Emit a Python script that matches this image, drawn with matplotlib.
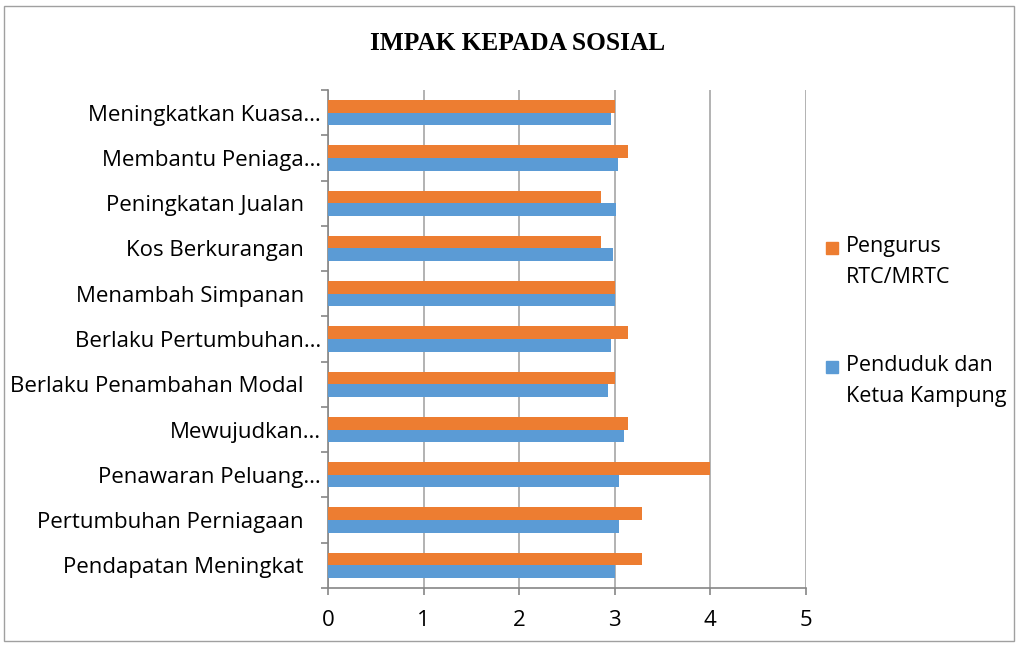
import numpy as np
import matplotlib.pyplot as plt
from matplotlib.patches import Rectangle

# Data (bottom to top, as drawn)
categories = [
    "Pendapatan Meningkat",
    "Pertumbuhan Perniagaan",
    "Penawaran Peluang…",
    "Mewujudkan…",
    "Berlaku Penambahan Modal",
    "Berlaku Pertumbuhan…",
    "Menambah Simpanan",
    "Kos Berkurangan",
    "Peningkatan Jualan",
    "Membantu Peniaga…",
    "Meningkatkan Kuasa…",
]
pengurus = [3.29, 3.29, 4.0, 3.14, 3.0, 3.14, 3.0, 2.86, 2.86, 3.14, 3.0]
penduduk = [3.0, 3.05, 3.05, 3.10, 2.93, 2.96, 3.01, 2.98, 3.02, 3.04, 2.96]
series_names = ["Pengurus\nRTC/MRTC", "Penduduk dan\nKetua Kampung"]
x_ticks = [0, 1, 2, 3, 4, 5]

orange = "#ed7d31"
blue = "#5b9bd5"
label_font = "Open Sans"
fs = 16

fig = plt.figure(figsize=(10.16, 6.45), dpi=100)
W, H = 1016, 645
ax = fig.add_axes([328 / W, 1 - 588 / H, (805.5 - 328) / W, (588 - 90) / H])

y = np.arange(len(categories))
h = 0.28
ax.barh(y - h / 2, penduduk, height=h, color=blue, zorder=3)
ax.barh(y + h / 2, pengurus, height=h, color=orange, zorder=3)

ax.set_xlim(0, 5)
ax.set_ylim(-0.5, len(categories) - 0.5)
ax.set_xticks(x_ticks)
ax.set_xticklabels([str(t) for t in x_ticks], fontsize=fs, family=label_font)
ax.set_yticks(y)
# full (untruncated) labels sit a little further from the axis than the cut ones
ax.set_yticklabels([c if c.endswith("…") else c + "   " for c in categories],
                   fontsize=fs, family=label_font)
ax.set_yticks(np.arange(len(categories) + 1) - 0.5, minor=True)
ax.tick_params(axis="y", which="major", length=0, pad=5)
ax.tick_params(axis="y", which="minor", length=5, color="#868686", width=1.2)
ax.tick_params(axis="x", length=5, color="#868686", width=1.2, pad=11)

ax.grid(axis="x", color="#a6a6a6", linewidth=1.2, zorder=0)
for s in ["top", "right"]:
    ax.spines[s].set_visible(False)
for s in ["left", "bottom"]:
    ax.spines[s].set_color("#868686")
    ax.spines[s].set_linewidth(1.2)

fig.text(518 / W, 1 - 43 / H, "IMPAK KEPADA SOSIAL", ha="center", va="center",
         fontsize=18.3, fontweight="bold", family="Liberation Serif")

# legend drawn by hand: square next to the first line of each label
leg_colors = [orange, blue]
leg_tops = [242, 361]
for name, col, top in zip(series_names, leg_colors, leg_tops):
    fig.patches.append(Rectangle((826 / W, 1 - (top + 12) / H), 12 / W, 12 / H,
                                 transform=fig.transFigure, color=col))
    fig.text(846 / W, 1 - (top - 6) / H, name, ha="left", va="top",
             fontsize=15.5, family=label_font, linespacing=1.6)

fig.patches.append(Rectangle((4 / W, 1 - 641 / H), 1010 / W, 635 / H,
                             transform=fig.transFigure, fill=False,
                             edgecolor="#a0a0a0", linewidth=1))

fig.savefig("out.png", dpi=100)
